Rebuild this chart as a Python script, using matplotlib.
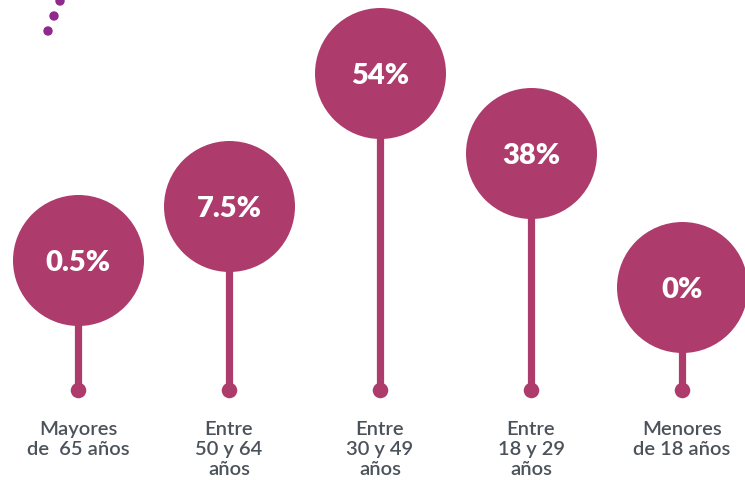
import matplotlib.pyplot as plt
from matplotlib.patches import Circle

# datos
grupos = ['Mayores\nde  65 años', 'Entre\n50 y 64\naños', 'Entre\n30 y 49\naños',
          'Entre\n18 y 29\naños', 'Menores\nde 18 años']
porcentajes = ['0.5%', '7.5%', '54%', '38%', '0%']
# altura de cada tallo (en px sobre la base), como en el original
altura_tallo = [130, 184, 317, 237, 103]

color = '#AD3B6C'
color_texto = '#4B525A'

fig = plt.figure(figsize=(7.45, 4.85), dpi=100)
ax = fig.add_axes([0, 0, 1, 1])
ax.set_xlim(-0.5166, 4.417)
ax.set_ylim(-94, 391)
ax.axis('off')

x = list(range(len(grupos)))

# tallos
ax.vlines(x, 0, altura_tallo, color=color, lw=5.2, zorder=1)
# puntos de la base
ax.scatter(x, [0] * len(x), s=125, color=color, zorder=2, linewidths=0)
# circulos grandes
ax.scatter(x, altura_tallo, s=(2 * 65.5 * 0.72) ** 2, color=color, zorder=3,
           linewidths=0, clip_on=False)

for xi, h, p in zip(x, altura_tallo, porcentajes):
    ax.text(xi, h - 2, p, ha='center', va='center', color='white', fontsize=21,
            fontweight='heavy', family='Lato', zorder=4)

for xi, g in zip(x, grupos):
    ax.text(xi, -30, g, ha='center', va='top', color=color_texto, fontsize=14.5,
            fontweight='semibold', family='Lato', linespacing=1.22)

# puntos decorativos arriba a la izquierda (en px)
deco = fig.add_axes([0, 0, 1, 1])
deco.set_xlim(0, 745)
deco.set_ylim(485, 0)
deco.axis('off')
for cx, cy in [(60, 2), (54, 17), (48, 32)]:
    deco.add_patch(Circle((cx, cy), 4, color='#8E2A8C'))

plt.savefig('out.png', dpi=100)
